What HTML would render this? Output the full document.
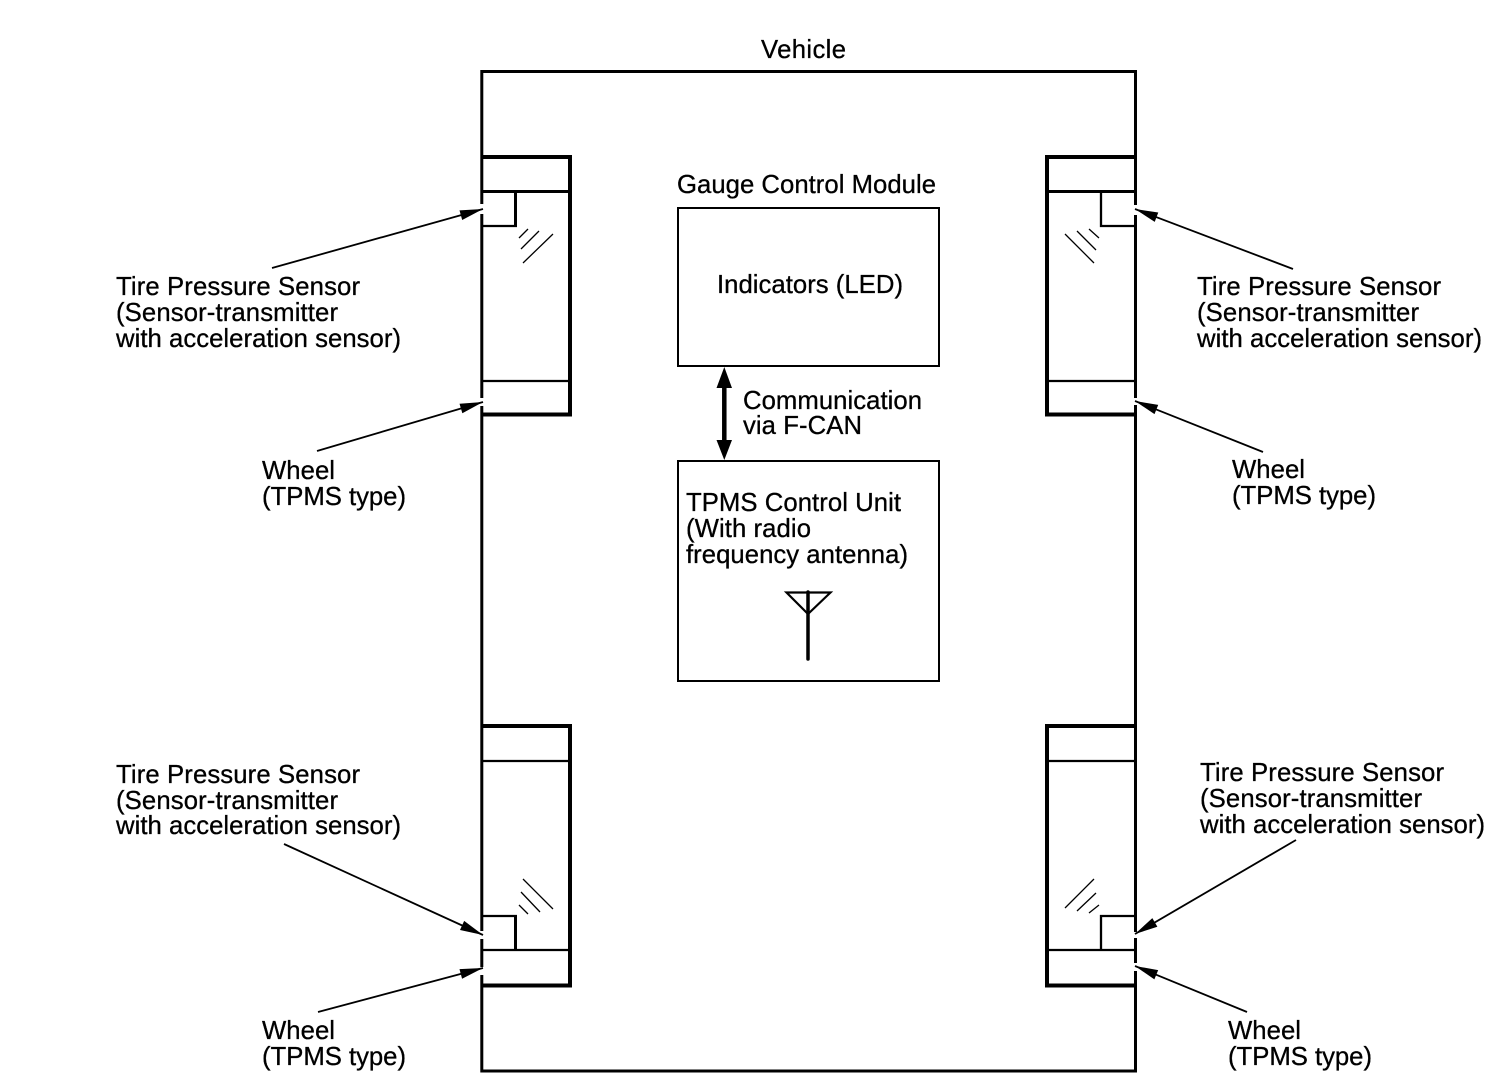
<!DOCTYPE html>
<html>
<head>
<meta charset="utf-8">
<style>
html,body{margin:0;padding:0;background:#fff}
svg{display:block}
text{font-family:"Liberation Sans",sans-serif;font-size:25.7px;fill:#000;stroke:#000;stroke-width:.3}
.l{stroke:#000;fill:none}
.a{stroke:#000;stroke-width:1.8;fill:none;marker-end:url(#h)}
.g{stroke:#fff;stroke-width:5;fill:none}
.t{stroke:#000;stroke-width:1.3;fill:none}
</style>
</head>
<body>
<svg width="1504" height="1082" viewBox="0 0 1504 1082" xmlns="http://www.w3.org/2000/svg">
<defs>
<marker id="h" markerUnits="userSpaceOnUse" markerWidth="24" markerHeight="12" refX="23" refY="6" orient="auto" overflow="visible">
<path d="M0 1 L23 6 L0 11 Z" fill="#000"/>
</marker>
</defs>
<rect width="1504" height="1082" fill="#fff"/>

<!-- vehicle -->
<rect class="l" stroke-width="3" x="481.8" y="71.5" width="653.7" height="999.5"/>

<!-- top-left wheel -->
<path class="l" stroke-width="4" d="M482 157H570V414.5H482"/>
<path class="l" stroke-width="3" d="M482 191.5H570M515.5 191.5V226"/>
<path class="l" stroke-width="2.3" d="M482 226H517M482 381H570"/>
<path class="t" d="M519 238L528 229M521 249L539 231M523 263L553 234"/>

<!-- top-right wheel -->
<path class="l" stroke-width="4" d="M1135 157H1047V414.5H1135"/>
<path class="l" stroke-width="3" d="M1047 191.5H1135"/>
<path class="l" stroke-width="2.3" d="M1101 191.5V226H1135M1047 381H1135"/>
<path class="t" d="M1065 234L1094 263M1077 231L1096 250M1089 229L1099 238"/>

<!-- bottom-left wheel -->
<path class="l" stroke-width="4" d="M482 726H570V985.5H482"/>
<path class="l" stroke-width="2.3" d="M482 761H570M482 950H570M482 916H517"/>
<path class="l" stroke-width="3" d="M515.5 916V950"/>
<path class="t" d="M523 879L553 909M521 892L540 912M519 905L528 914"/>

<!-- bottom-right wheel -->
<path class="l" stroke-width="4" d="M1135 726H1047V985.5H1135"/>
<path class="l" stroke-width="2.3" d="M1047 761H1135M1047 950H1135M1135 916H1101V950"/>
<path class="t" d="M1065 908L1094 879M1077 911L1096 893M1089 913L1099 905"/>

<!-- gaps in vehicle outline -->
<path class="g" d="M481.8 204V214M481.8 398V406M481.8 931V939M481.8 967V975M1135.5 205V215M1135.5 398V405M1135.5 932V938M1135.5 963V971"/>

<!-- leader arrows -->
<line class="a" x1="272" y1="268" x2="483" y2="209"/>
<line class="a" x1="317" y1="451" x2="483" y2="402"/>
<line class="a" x1="1293" y1="269" x2="1135" y2="209"/>
<line class="a" x1="1263" y1="452" x2="1135" y2="401"/>
<line class="a" x1="284" y1="844" x2="483" y2="935"/>
<line class="a" x1="318" y1="1012" x2="483" y2="968"/>
<line class="a" x1="1296" y1="840" x2="1135" y2="934"/>
<line class="a" x1="1247" y1="1012" x2="1135" y2="966"/>

<!-- control boxes -->
<rect class="l" stroke-width="2" x="678" y="208" width="261" height="158"/>
<rect class="l" stroke-width="2" x="678" y="461" width="261" height="220"/>

<!-- bidirectional arrow -->
<path class="l" stroke-width="4.5" d="M724.3 385V442"/>
<path d="M724.3 367L732 388H716.5Z M724.3 460L732 440H716.5Z" fill="#000"/>

<!-- antenna -->
<path class="l" stroke-width="2.2" d="M786.5 592.5H830.5L808 614Z"/>
<path class="l" stroke-width="3.5" stroke-linecap="round" d="M808 592V659"/>

<!-- labels -->
<text x="761" y="58" textLength="85">Vehicle</text>
<text x="677" y="193" textLength="259">Gauge Control Module</text>
<text x="717" y="293" textLength="186">Indicators (LED)</text>
<text x="743" y="409" textLength="179">Communication</text>
<text x="743" y="434" textLength="119">via F-CAN</text>
<text x="686" y="511" textLength="215">TPMS Control Unit</text>
<text x="686" y="537" textLength="125">(With radio</text>
<text x="686" y="563" textLength="222">frequency antenna)</text>

<text x="116" y="295" textLength="244">Tire Pressure Sensor</text>
<text x="116" y="321" textLength="222">(Sensor-transmitter</text>
<text x="116" y="347" textLength="285">with acceleration sensor)</text>
<text x="262" y="479" textLength="73">Wheel</text>
<text x="262" y="505" textLength="144">(TPMS type)</text>

<text x="1197" y="295" textLength="244">Tire Pressure Sensor</text>
<text x="1197" y="321" textLength="222">(Sensor-transmitter</text>
<text x="1197" y="347" textLength="285">with acceleration sensor)</text>
<text x="1232" y="478" textLength="73">Wheel</text>
<text x="1232" y="504" textLength="144">(TPMS type)</text>

<text x="116" y="783" textLength="244">Tire Pressure Sensor</text>
<text x="116" y="809" textLength="222">(Sensor-transmitter</text>
<text x="116" y="834" textLength="285">with acceleration sensor)</text>
<text x="262" y="1039" textLength="73">Wheel</text>
<text x="262" y="1065" textLength="144">(TPMS type)</text>

<text x="1200" y="781" textLength="244">Tire Pressure Sensor</text>
<text x="1200" y="807" textLength="222">(Sensor-transmitter</text>
<text x="1200" y="833" textLength="285">with acceleration sensor)</text>
<text x="1228" y="1039" textLength="73">Wheel</text>
<text x="1228" y="1065" textLength="144">(TPMS type)</text>
</svg>
</body>
</html>
